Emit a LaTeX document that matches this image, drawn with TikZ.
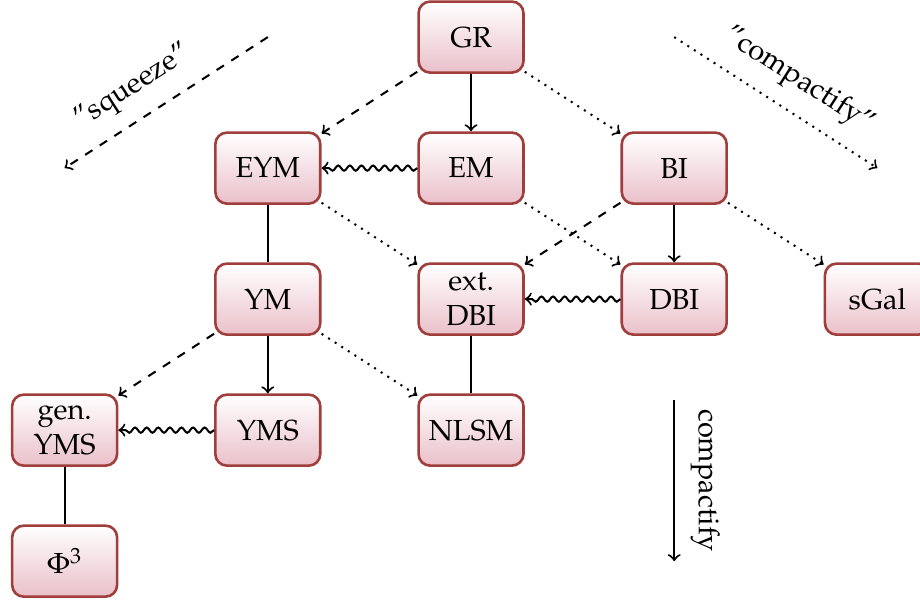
\documentclass[tikz,border=0pt]{standalone}
\usepackage[OT1]{fontenc}
\usepackage{mathpazo}
\usepackage{amsmath}
\usepackage{xcolor}
\usepackage{tikz}
\usetikzlibrary{positioning,decorations.pathmorphing}

\definecolor{boxborder}{RGB}{160,62,60}
\definecolor{boxfill}{RGB}{234,192,202}

\tikzset{
    theory/.style={draw=boxborder, line width=0.9pt, rounded corners=4pt,
        top color=white, bottom color=boxfill, align=center,
        minimum width=36.2pt, minimum height=24.5pt, inner sep=1.5pt},
    wavy/.style={decorate, decoration={snake, amplitude=0.9pt,
        segment length=4pt, post length=2pt}},
}

\begin{document}
\begin{tikzpicture}[node distance=45.2pt and 70.1pt, on grid, >=to, line width=0.7pt]
    \useasboundingbox (-162.5pt,12.8pt) rectangle (154.9pt,-194.9pt);
    \node(GR)[theory] {GR};
    \node(EM)[theory, below=of GR] {EM};
    \node(EYM)[theory, left=of EM] {EYM};
    \node(BI)[theory, right=of EM] {BI};
    \node(extDBI)[theory, below=of EM] {ext.\\DBI};
    \node(YM)[theory, below=of EYM] {YM};
    \node(DBI)[theory, below=of BI] {DBI};
    \node(sGal)[theory, right=of DBI] {sGal};
    \node(YMS)[theory, below=of YM] {YMS};
    \node(NLSM)[theory, below=of extDBI] {NLSM};
    \node(genYMS)[theory, left=of YMS] {gen.\\YMS};
    \node(phi)[theory, below=of genYMS] {$\Phi^3$};
    \coordinate(sq1) at (EYM |- GR);
    \coordinate(sq2) at (genYMS |- EYM);
    \coordinate(co1) at (BI |- GR);
    \coordinate(co2) at (sGal |- BI);
    \coordinate[below=34.8pt of DBI] (cp1);
    \coordinate(cp2) at (DBI |- phi);
    \draw[->] (GR) -- (EM);
    \draw[->, dashed] (GR) -- (EYM);
    \draw[->, dotted] (GR) -- (BI);
    \draw[->, wavy] (EM) -- (EYM);
    \draw[->, dotted] (EYM) -- (extDBI);
    \draw[->, dotted] (EM) -- (DBI);
    \draw[->, dashed] (BI) -- (extDBI);
    \draw[->] (BI) -- (DBI);
    \draw[->, dotted] (BI) -- (sGal);
    \draw[->, wavy] (DBI) -- (extDBI);
    \draw (EYM) -- (YM);
    \draw (extDBI) -- (NLSM);
    \draw[->] (YM) -- (YMS);
    \draw[->, dashed] (YM) -- (genYMS);
    \draw[->, dotted] (YM) -- (NLSM);
    \draw[->, wavy] (YMS) -- (genYMS);
    \draw (genYMS) -- (phi);
    \draw[->, dashed] (sq1) -- node[pos=0.58, sloped, above, yshift=2pt] {"squeeze"} (sq2);
    \draw[->, dotted] (co1) -- node[pos=0.53, sloped, above, yshift=2pt] {"compactify"} (co2);
    \draw[->] (cp1) -- node[midway, sloped, above, yshift=2pt] {compactify} (cp2);
\end{tikzpicture}
\end{document}
